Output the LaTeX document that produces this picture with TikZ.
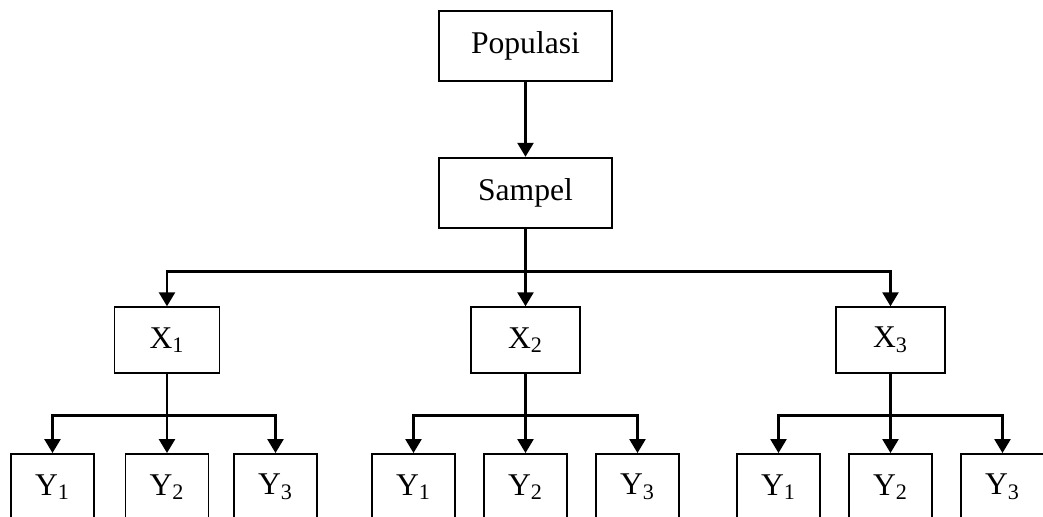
\documentclass[tikz,border=0pt]{standalone}
\usepackage{fontspec}
\setmainfont{Liberation Serif}
\usetikzlibrary{arrows.meta}
\begin{document}
\begin{tikzpicture} [node distance=2.94cm, inner sep=0pt, font=\fontsize{18}{22}\selectfont,
        box/.style={draw, rectangle, line width=1.1pt},
        bigbox/.style={box, minimum width=3.46cm, minimum height=1.41cm},
        xbox/.style={box, minimum width=2.18cm, minimum height=1.31cm},
        ybox/.style={box, minimum width=1.66cm, minimum height=1.32cm},
        arr/.style={-{Triangle[width=0.32cm, length=0.28cm]}, line width=1.5pt},
        wire/.style={line width=1.5pt}]
                \useasboundingbox (-10.51,0.92) rectangle (10.35,-9.40);
                \clip (-10.51,0.92) rectangle (10.35,-9.40);

                \node (Pop) [bigbox] at(0,0) {Populasi};
                \node (Sampel) [below of=Pop, bigbox] {Sampel};
                \node (X2) [below of=Sampel, xbox] {X\textsubscript{2}};
                \node (X1) [left of=X2, node distance=7.17cm, xbox, minimum width=2.1cm] {X\textsubscript{1}};
                \node (X3) [right of=X2, node distance=7.3cm, xbox] {X\textsubscript{3}};

                \node (Y12) [below of=X1, ybox] {Y\textsubscript{2}};
                \node (Y11) [left of=Y12, node distance=2.29cm, ybox] {Y\textsubscript{1}};
                \node (Y13) [right of=Y12, node distance=2.17cm, ybox] {Y\textsubscript{3}};
                \node (Y22) [below of=X2, ybox] {Y\textsubscript{2}};
                \node (Y21) [left of=Y22, node distance=2.24cm, ybox] {Y\textsubscript{1}};
                \node (Y23) [right of=Y22, node distance=2.24cm, ybox] {Y\textsubscript{3}};
                \node (Y32) [below of=X3, ybox] {Y\textsubscript{2}};
                \node (Y31) [left of=Y32, node distance=2.24cm, ybox] {Y\textsubscript{1}};
                \node (Y33) [right of=Y32, node distance=2.24cm, ybox] {Y\textsubscript{3}};

                \node (fork) [coordinate, below of=Sampel, node distance=1.57cm] {};
                \node (fork1) [coordinate, below of=X1, node distance=1.51cm] {};
                \node (fork2) [coordinate, below of=X2, node distance=1.51cm] {};
                \node (fork3) [coordinate, below of=X3, node distance=1.51cm] {};

                \draw[arr] (Pop) -- (Sampel);
                \draw[wire] (Sampel) -- (fork);
                \draw[arr] (fork) -| (X1.north);
                \draw[arr] (fork) -- (X2);
                \draw[arr] (fork) -| (X3.north);

                \draw[wire] (X1) -- (fork1);
                \draw[arr] (fork1) -| (Y11.north);
                \draw[arr] (fork1) -- (Y12);
                \draw[arr] (fork1) -| (Y13.north);

                \draw[wire] (X2) -- (fork2);
                \draw[arr] (fork2) -| (Y21.north);
                \draw[arr] (fork2) -- (Y22);
                \draw[arr] (fork2) -| (Y23.north);

                \draw[wire] (X3) -- (fork3);
                \draw[arr] (fork3) -| (Y31.north);
                \draw[arr] (fork3) -- (Y32);
                \draw[arr] (fork3) -| (Y33.north);
            \end{tikzpicture}
\end{document}
